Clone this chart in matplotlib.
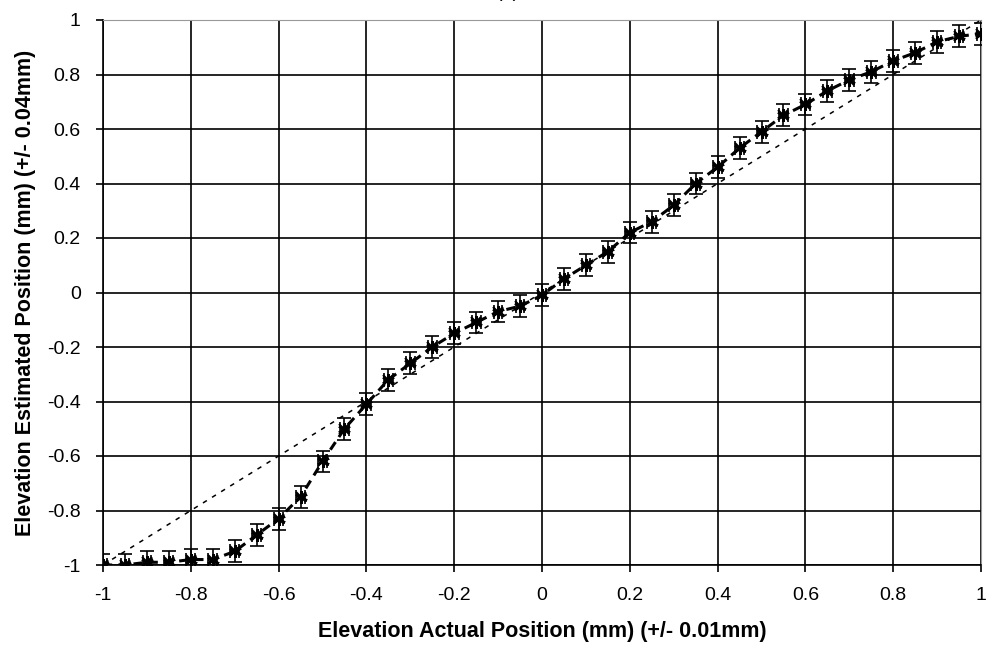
import matplotlib
matplotlib.use("Agg")
from matplotlib import pyplot as plt
import numpy as np

# actual positions (mm) and estimated positions
actual_pos = [-1.0, -0.95, -0.9, -0.85, -0.8, -0.75, -0.7, -0.65, -0.6, -0.55,
              -0.5, -0.45, -0.4, -0.35, -0.3, -0.25, -0.2, -0.15, -0.1, -0.05,
              0.0, 0.05, 0.1, 0.15, 0.2, 0.25, 0.3, 0.35, 0.4, 0.45,
              0.5, 0.55, 0.6, 0.65, 0.7, 0.75, 0.8, 0.85, 0.9, 0.95, 1.0]
estimated_pos = [-1.00, -1.00, -0.99, -0.99, -0.98, -0.98, -0.95, -0.89, -0.83, -0.75,
                 -0.62, -0.50, -0.41, -0.32, -0.26, -0.20, -0.15, -0.11, -0.07, -0.05,
                 -0.01, 0.05, 0.10, 0.15, 0.22, 0.26, 0.32, 0.40, 0.46, 0.53,
                 0.59, 0.65, 0.69, 0.74, 0.78, 0.81, 0.85, 0.88, 0.92, 0.94, 0.95]
x_err = 0.01
y_err = 0.04
ideal_x = [-1, 1]
ideal_y = [-1, 1]
ticks = [-1, -0.8, -0.6, -0.4, -0.2, 0, 0.2, 0.4, 0.6, 0.8, 1]
tick_labels = ["-1", "-0.8", "-0.6", "-0.4", "-0.2", "0", "0.2", "0.4", "0.6", "0.8", "1"]

plt.rcParams['font.family'] = ['Liberation Sans', 'DejaVu Sans']

fig = plt.figure(figsize=(9.96, 6.52), dpi=100)
ax = fig.add_axes([103/996, 1 - 565/652, (981 - 103)/996, (565 - 20)/652])

# ideal y = x line
ax.plot(ideal_x, ideal_y, color="black", linewidth=1.1, linestyle=(0, (3, 4)), zorder=3)

# measured points
ax.plot(actual_pos, estimated_pos, color="black", linewidth=2.2,
        linestyle=(0, (3, 2)), zorder=4)
ax.errorbar(actual_pos, estimated_pos, xerr=x_err, yerr=y_err, fmt="none",
            ecolor="black", elinewidth=1.2, capsize=5, capthick=1.2, zorder=5)
ax.plot(actual_pos, estimated_pos, linestyle="none", marker=(6, 2, 0),
        markersize=9, markeredgewidth=1.8, color="black", zorder=6)
ax.plot(actual_pos, estimated_pos, linestyle="none", marker="x",
        markersize=7, markeredgewidth=1.5, color="black", zorder=6)

ax.set_xlim(-1, 1)
ax.set_ylim(-1, 1)
ax.set_xticks(ticks)
ax.set_xticklabels(tick_labels)
ax.set_yticks(ticks)
ax.set_yticklabels(tick_labels)
ax.grid(True, color="black", linewidth=1.2)
ax.set_axisbelow(True)
ax.tick_params(direction="out", length=5, width=1.2, labelsize=14, pad=11, colors="black")

for side in ["top", "right"]:
    ax.spines[side].set_color("#999999")
for side in ["left", "bottom"]:
    ax.spines[side].set_color("black")
    ax.spines[side].set_linewidth(1.2)

ax.set_xlabel("Elevation Actual Position (mm) (+/- 0.01mm)", fontsize=15.5,
              fontweight="bold", labelpad=12)
ax.set_ylabel("Elevation Estimated Position (mm) (+/- 0.04mm)", fontsize=15.5,
              fontweight="bold", labelpad=8)

fig.text(0.51, 1.012, "(a)", ha="center", va="center", fontsize=14)

fig.savefig("out.png", dpi=100)
